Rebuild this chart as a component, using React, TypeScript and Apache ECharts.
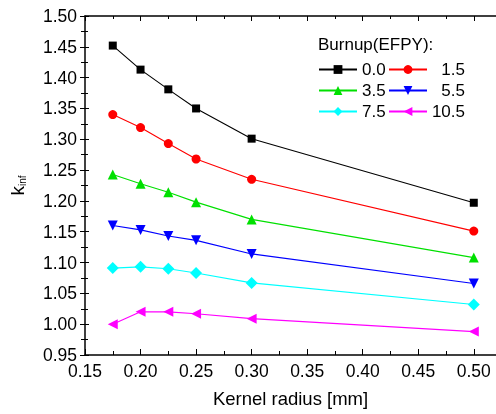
import React, { useEffect, useRef } from "react";
import * as echarts from "echarts";

const radii = [0.175, 0.2, 0.225, 0.25, 0.3, 0.5];
const burnups = ["0.0", "1.5", "3.5", "5.5", "7.5", "10.5"];
const k00 = [1.452, 1.413, 1.381, 1.35, 1.301, 1.197];
const k15 = [1.34, 1.319, 1.293, 1.268, 1.235, 1.151];
const k35 = [1.243, 1.228, 1.214, 1.198, 1.17, 1.108];
const k55 = [1.16, 1.153, 1.143, 1.136, 1.114, 1.066];
const k75 = [1.091, 1.093, 1.09, 1.083, 1.067, 1.032];
const k105 = [1.0, 1.02, 1.02, 1.017, 1.009, 0.988];
const seriesValues = [k00, k15, k35, k55, k75, k105];
const colors = ["#000000", "#ff0000", "#00e000", "#0000ff", "#00ffff", "#ff00ff"];
const symbols = ["rect", "circle", "triangle", "triangle", "diamond", "triangle"];
const rotations = [0, 0, 0, 180, 0, 90];
const sizes = [8, 9, 10, 10, 12, 10];

const FONT = "Liberation Sans, Arial, sans-serif";

export default function App() {
  const ref = useRef<HTMLDivElement>(null);
  useEffect(() => {
    if (!ref.current) return;
    const chart = echarts.init(ref.current, null, { renderer: "svg" });
    const series = seriesValues.map((vals, i) => ({
      name: burnups[i],
      type: "line",
      data: vals.map((v, j) => [radii[j], v]),
      symbol: symbols[i],
      symbolRotate: rotations[i],
      symbolSize: sizes[i],
      lineStyle: { color: colors[i], width: 1.1 },
      itemStyle: { color: colors[i] },
      xAxisIndex: 0,
      yAxisIndex: 0,
    }));
    const legendPos = [
      [318, 61],
      [388, 61],
      [318, 82],
      [388, 82],
      [318, 103],
      [388, 103],
    ];
    const legends = burnups.map((b, i) => ({
      data: [b],
      left: legendPos[i][0],
      top: legendPos[i][1],
      padding: 0,
      itemWidth: 38,
      itemHeight: 11,
      formatter: i % 2 === 1 ? "{r|{name}}" : "{name}",
      textStyle: {
        fontSize: 17,
        fontFamily: FONT,
        color: "#000",
        rich: { r: { width: 33, align: "right", fontSize: 17, fontFamily: FONT, color: "#000" } },
      },
      selectedMode: false,
    }));
    const labelStyle = { fontSize: 17.5, fontFamily: FONT, color: "#000" };
    chart.setOption({
      animation: false,
      grid: { left: 82, top: 16, width: 416, height: 339, containLabel: false },
      legend: legends,
      graphic: [
        {
          type: "text",
          left: 318,
          top: 36,
          style: { text: "Burnup(EFPY):", fontSize: 17, fontFamily: FONT, fill: "#000" },
        },
      ],
      xAxis: [
        {
          type: "value",
          min: 0.15,
          max: 0.52,
          interval: 0.05,
          position: "bottom",
          name: "Kernel radius [mm]",
          nameLocation: "middle",
          nameGap: 34,
          nameTextStyle: { fontSize: 18.5, fontFamily: FONT, color: "#000" },
          axisLine: { lineStyle: { color: "#000", width: 1.5 } },
          axisTick: { inside: true, length: 6, lineStyle: { color: "#000" } },
          minorTick: { show: true, splitNumber: 2, length: 4, lineStyle: { color: "#000" } },
          splitLine: { show: false },
          axisLabel: {
            ...labelStyle,
            margin: 7,
            showMaxLabel: false,
            formatter: (v: number) => v.toFixed(2),
          },
        },
        {
          type: "value",
          min: 0.15,
          max: 0.52,
          interval: 0.05,
          position: "top",
          axisLine: { lineStyle: { color: "#000", width: 1.5 } },
          axisTick: { inside: true, length: 5, lineStyle: { color: "#000" } },
          minorTick: { show: true, splitNumber: 2, length: 3, lineStyle: { color: "#000" } },
          splitLine: { show: false },
          axisLabel: { show: false },
        },
      ],
      yAxis: [
        {
          type: "value",
          min: 0.95,
          max: 1.5,
          interval: 0.05,
          position: "left",
          name: "{k|k}{s|inf}",
          nameLocation: "middle",
          nameRotate: 90,
          nameGap: 58,
          nameTextStyle: {
            rich: {
              k: { fontSize: 19, fontFamily: FONT, color: "#000", lineHeight: 20, verticalAlign: "bottom" },
              s: { fontSize: 10, fontFamily: FONT, color: "#000", lineHeight: 14, verticalAlign: "bottom", padding: [6, 0, 0, 0] },
            },
          },
          axisLine: { show: true, lineStyle: { color: "#000", width: 1.5 } },
          axisTick: { show: true, inside: false, length: 5, lineStyle: { color: "#000" } },
          minorTick: { show: true, splitNumber: 2, length: 4, lineStyle: { color: "#000" } },
          splitLine: { show: false },
          axisLabel: { ...labelStyle, margin: 8, formatter: (v: number) => v.toFixed(2) },
        },
        {
          type: "value",
          min: 0.95,
          max: 1.5,
          interval: 0.05,
          position: "left",
          offset: 0,
          axisLine: { show: false },
          axisTick: { show: true, inside: true, length: 4, lineStyle: { color: "#000" } },
          minorTick: { show: true, splitNumber: 2, length: 3, lineStyle: { color: "#000" } },
          splitLine: { show: false },
          axisLabel: { show: false },
        },
      ],
      series,
    });
    return () => chart.dispose();
  }, []);
  return (
    <div
      ref={ref}
      style={{ position: "fixed", left: 0, top: 0, width: 496, height: 414 }}
    />
  );
}
